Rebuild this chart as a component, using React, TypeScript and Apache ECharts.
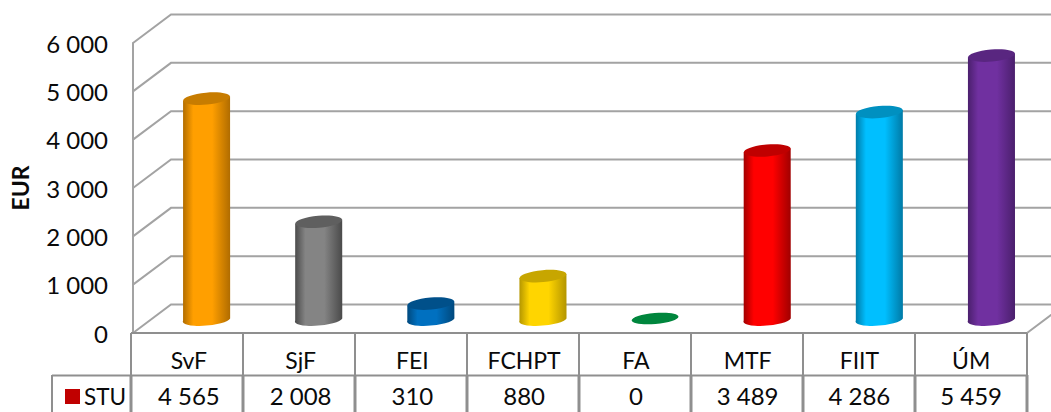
import React, { useEffect, useRef } from "react";
import * as echarts from "echarts";

const categories = ["SvF", "SjF", "FEI", "FCHPT", "FA", "MTF", "FIIT", "ÚM"];
const values = [4565, 2008, 310, 880, 0, 3489, 4286, 5459];
const bodyColors = ["#ff9f00", "#848484", "#0070c0", "#ffd500", "#00863d", "#ff0000", "#00bfff", "#7030a0"];
const sideColors = ["#b06c00", "#4a4a4a", "#00487c", "#b39500", "#00863d", "#a00000", "#007aa6", "#4a1f6c"];
const topColors = ["#c77c00", "#5f5f5f", "#00508a", "#c7a600", "#00863d", "#bf0000", "#0090c0", "#592680"];
const yTicks = [0, 1000, 2000, 3000, 4000, 5000, 6000];

const fmt = (v: number) => String(v).replace(/\B(?=(\d{3})+$)/g, " ");
const FONT = "Lato";
const INK = "#0a0a0a";
const LINE = "#a3a3a3";
const TABLE = "#8f8f8f";
const DX = 38;
const DY = 28.5;
const RX = 23.5;
const RY = 6;
const TILT = (5 * Math.PI) / 180;

export default function App() {
  const ref = useRef<HTMLDivElement>(null);
  useEffect(() => {
    document.body.style.margin = "0";
    const chart = echarts.init(ref.current!, null, { renderer: "svg" });
    const left = 131, band = 112, top = 333;
    const tableLines: any[] = [];
    const seg = (x1: number, y1: number, x2: number, y2: number, w = 2) =>
      tableLines.push({ type: "line", silent: true, z: 5, shape: { x1, y1, x2, y2 }, style: { stroke: TABLE, lineWidth: w } });
    seg(left, top, left + band * 8, top);
    seg(52, 375.5, left + band * 8, 375.5);
    seg(52, 375, 52, 412);
    for (let i = 0; i <= 8; i++) {
      seg(left + band * i, top, left + band * i, 375, 2);
      seg(left + band * i, 375, left + band * i, 412, 3);
    }
    chart.setOption({
      animation: false,
      backgroundColor: "#ffffff",
      textStyle: { fontFamily: FONT },
      legend: {
        left: 60,
        top: 380,
        icon: "rect",
        itemWidth: 15,
        itemHeight: 15,
        itemGap: 6,
        data: [{ name: "STU", itemStyle: { color: "#c00000" } }],
        textStyle: { fontFamily: FONT, fontSize: 22.5, color: INK, padding: [0, 0, 0, -1] },
      },
      grid: [
        { left: 131, width: 896, top: 43, height: 290 },
        { left: 150.5, width: 897, top: 29.5, height: 289 },
      ],
      xAxis: [
        {
          type: "category", gridIndex: 0, data: categories,
          axisLine: { show: false }, axisTick: { show: false },
          axisLabel: { margin: 15, fontFamily: FONT, fontSize: 23, color: INK },
        },
        {
          type: "category", gridIndex: 0, position: "bottom", offset: 42, data: values.map(fmt),
          axisLine: { show: false }, axisTick: { show: false },
          axisLabel: { margin: 8, fontFamily: FONT, fontSize: 24, color: INK },
        },
        { type: "category", gridIndex: 1, data: categories, show: false },
      ],
      yAxis: [
        {
          type: "value", gridIndex: 0, min: 0, max: 6000, interval: 1000,
          name: "EUR", nameLocation: "middle", nameGap: 102,
          nameTextStyle: { fontFamily: FONT, fontSize: 23, fontWeight: "bold", color: INK },
          axisLine: { show: true, lineStyle: { color: LINE, width: 2 } },
          axisTick: { show: false }, splitLine: { show: false },
          axisLabel: { margin: 25, fontFamily: FONT, fontSize: 24, color: INK, formatter: (v: number) => fmt(v) },
        },
        { type: "value", gridIndex: 1, min: 0, max: 6000, interval: 1000, show: false },
      ],
      graphic: tableLines,
      series: [
        {
          type: "custom", name: "walls", xAxisIndex: 0, yAxisIndex: 0, z: 1, silent: true,
          data: yTicks.map((v) => [0, v]),
          renderItem: (params: any, api: any) => {
            const cs = params.coordSys;
            const y = api.coord([0, api.value(1)])[1];
            const x0 = cs.x, x1 = cs.x + cs.width;
            const points = api.value(1) === 0
              ? [[x0, y], [x0 + DX, y - DY], [x1 + DX, y - DY], [x1, y]]
              : [[x0, y], [x0 + DX, y - DY], [x1 + DX, y - DY]];
            return { type: "polyline", shape: { points }, style: { fill: "none", stroke: LINE, lineWidth: 2 } };
          },
        },
        {
          type: "custom", name: "STU", xAxisIndex: 2, yAxisIndex: 1, z: 3, silent: true,
          data: values.map((v, i) => [i, v]),
          renderItem: (params: any, api: any) => {
            const i = params.dataIndex;
            const v = api.value(1);
            const [cx, yt] = api.coord([i, v]);
            const yb = api.coord([i, 0])[1];
            const dyEnd = RX * Math.sin(TILT);
            const tc = topColors[i];
            if (v === 0) {
              return {
                type: "ellipse", x: cx, y: yb, rotation: TILT,
                shape: { cx: 0, cy: 0, rx: RX, ry: RY - 0.5 },
                style: { fill: tc },
              };
            }
            const d = `M${cx - RX} ${yt + dyEnd} L${cx - RX} ${yb + dyEnd} A${RX} ${RY} -5 0 0 ${cx + RX} ${yb - dyEnd} L${cx + RX} ${yt - dyEnd} Z`;
            const fill = {
              type: "linear", x: 0, y: 0, x2: 1, y2: 0,
              colorStops: [
                { offset: 0, color: sideColors[i] },
                { offset: 0.22, color: bodyColors[i] },
                { offset: 0.62, color: bodyColors[i] },
                { offset: 1, color: sideColors[i] },
              ],
            };
            return {
              type: "group",
              children: [
                { type: "path", shape: { pathData: d }, style: { fill } },
                {
                  type: "ellipse", x: cx, y: yt, rotation: TILT,
                  shape: { cx: 0, cy: 0, rx: RX, ry: RY },
                  style: { fill: tc },
                },
              ],
            };
          },
        },
      ],
    });
    return () => chart.dispose();
  }, []);
  return <div ref={ref} style={{ position: "absolute", left: 0, top: 0, width: 1051, height: 412 }} />;
}
